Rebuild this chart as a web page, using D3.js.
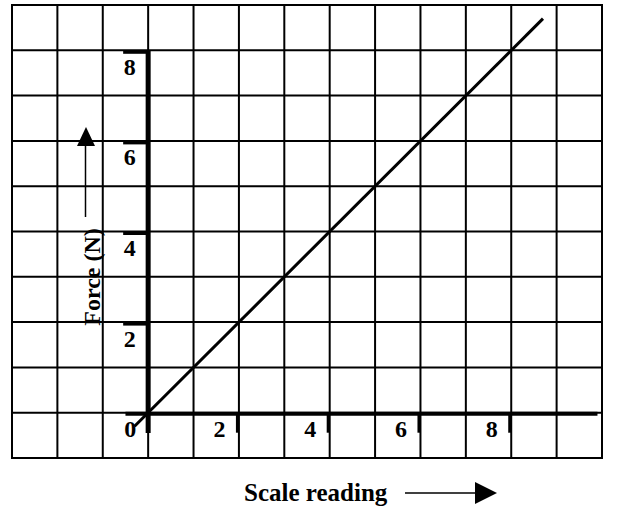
<!DOCTYPE html>
<html>
<head>
<meta charset="utf-8">
<script src="https://cdn.jsdelivr.net/npm/d3@7"></script>
<style>
  html, body { margin: 0; padding: 0; background: #fff; }
  text { font-family: "Liberation Serif", "Times New Roman", serif; font-weight: bold; fill: #000; }
</style>
</head>
<body>
<div id="chart"></div>
<script>
// grid extent in chart units
const gridX = d3.range(-3, 11);   // vertical grid lines
const gridY = d3.range(-1, 10);   // horizontal grid lines
const xTicks = [2, 4, 6, 8];
const yTicks = [2, 4, 6, 8];
const lineData = [{ x: -0.3, y: -0.3 }, { x: 8.7, y: 8.7 }];
const xTitle = "Scale reading";
const yTitle = "Force (N)";

const width = 621, height = 511;

const svg = d3.select("#chart")
  .append("svg")
  .attr("width", width)
  .attr("height", height);

const x = d3.scaleLinear().domain([-3, 10]).range([12, 602]);
const y = d3.scaleLinear().domain([-1, 9]).range([458, 5]);

// grid
svg.append("g")
  .selectAll("line")
  .data(gridX)
  .join("line")
  .attr("x1", d => x(d)).attr("x2", d => x(d))
  .attr("y1", y(-1)).attr("y2", y(9))
  .attr("stroke", "#000").attr("stroke-width", 2);

svg.append("g")
  .selectAll("line")
  .data(gridY)
  .join("line")
  .attr("y1", d => y(d)).attr("y2", d => y(d))
  .attr("x1", x(-3) - 1).attr("x2", x(10) + 1)
  .attr("stroke", "#000").attr("stroke-width", 2);

// axes
svg.append("line")
  .attr("x1", x(-0.5)).attr("x2", x(9.9))
  .attr("y1", y(0) + 1).attr("y2", y(0) + 1)
  .attr("stroke", "#000").attr("stroke-width", 4);

svg.append("line")
  .attr("x1", x(0)).attr("x2", x(0))
  .attr("y1", y(8)).attr("y2", y(-0.45))
  .attr("stroke", "#000").attr("stroke-width", 5);

// x ticks (below the axis, just left of grid line)
svg.append("g")
  .selectAll("line")
  .data(xTicks)
  .join("line")
  .attr("x1", d => x(d) - 1.5).attr("x2", d => x(d) - 1.5)
  .attr("y1", y(0)).attr("y2", y(0) + 20)
  .attr("stroke", "#000").attr("stroke-width", 3);

svg.append("g")
  .selectAll("text")
  .data([0, ...xTicks])
  .join("text")
  .attr("x", d => d === 0 ? x(0) - 18 : x(d) - 19.5)
  .attr("y", y(0) + 24)
  .attr("text-anchor", "middle")
  .style("font-size", "24px")
  .text(d => d);

// y ticks (left of axis, just below grid line)
svg.append("g")
  .selectAll("line")
  .data(yTicks)
  .join("line")
  .attr("x1", x(0) - 25).attr("x2", x(0))
  .attr("y1", d => y(d) + 2).attr("y2", d => y(d) + 2)
  .attr("stroke", "#000").attr("stroke-width", 3);

svg.append("g")
  .selectAll("text")
  .data(yTicks)
  .join("text")
  .attr("x", x(0) - 18.5)
  .attr("y", d => y(d) + 24.5)
  .attr("text-anchor", "middle")
  .style("font-size", "24px")
  .text(d => d);

// data line
svg.append("path")
  .datum(lineData)
  .attr("fill", "none")
  .attr("stroke", "#000")
  .attr("stroke-width", 3)
  .attr("d", d3.line().x(d => x(d.x)).y(d => y(d.y)));

// y title with arrow
svg.append("text")
  .attr("transform", "translate(100,277) rotate(-90)")
  .attr("text-anchor", "middle")
  .style("font-size", "24px")
  .text(yTitle);

svg.append("line")
  .attr("x1", 85.5).attr("x2", 85.5).attr("y1", 217).attr("y2", 145)
  .attr("stroke", "#000").attr("stroke-width", 1.5);
svg.append("path")
  .attr("d", "M86,127L77,146L95,146Z")
  .attr("fill", "#000");

// x title with arrow
svg.append("text")
  .attr("x", 244)
  .attr("y", 501)
  .style("font-size", "25px")
  .text(xTitle);

svg.append("line")
  .attr("x1", 405).attr("x2", 477).attr("y1", 493).attr("y2", 493)
  .attr("stroke", "#000").attr("stroke-width", 1.5);
svg.append("path")
  .attr("d", "M497,493L475,482L475,504Z")
  .attr("fill", "#000");
</script>
</body>
</html>
